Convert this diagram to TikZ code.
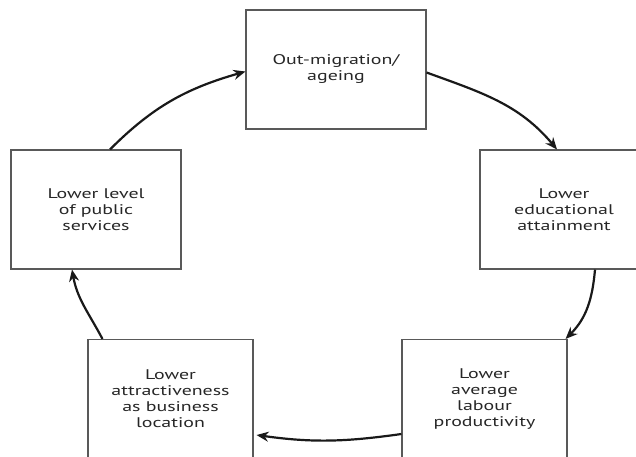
\documentclass[tikz,border=0pt]{standalone}
\usepackage{fontspec}
\setmainfont[FakeStretch=1.42]{PT Sans}
\usetikzlibrary{arrows.meta}

\begin{document}
\begin{tikzpicture}[x=1pt, y=1pt,
  box/.style={draw=black!65, line width=1.1pt, minimum height=119pt, inner sep=0pt,
    align=center, text=black!85, font=\fontsize{14}{16}\selectfont},
  link/.style={-{Stealth[length=12pt, width=10pt]}, line width=2.2pt, black!90}]
\useasboundingbox (0,0) rectangle (636,456);
\clip (0,0) rectangle (636,456);

% Boxes of the cycle
\node[box, minimum width=180pt] (out)  at (336,386.5)   {Out-migration/\\ageing};
\node[box, minimum width=168pt] (edu)  at (564,246.5)   {Lower\\educational\\attainment};
\node[box, minimum width=165pt] (prod) at (484.5,57)    {Lower\\average\\labour\\productivity};
\node[box, minimum width=165pt] (attr) at (170.5,57)    {Lower\\attractiveness\\as business\\location};
\node[box, minimum width=170pt] (pub)  at (96,246.5)    {Lower level\\of public\\services};

% Arrows round the cycle
\draw[link] ([yshift=-3pt]out.east) to[out=-20, in=130] ([xshift=-7pt]edu.north);
\draw[link] ([xshift=31pt]edu.south) to[out=-95, in=45] ([xshift=-2pt]prod.north east);
\draw[link] ([yshift=-35pt]prod.west) to[out=188, in=-8] ([xshift=3pt, yshift=-36pt]attr.east);
\draw[link] ([xshift=-68pt]attr.north) to[out=118, in=-80] ([xshift=-24pt]pub.south);
\draw[link] ([xshift=14pt]pub.north) to[out=45, in=-164] ([yshift=-2pt]out.west);
\end{tikzpicture}
\end{document}
